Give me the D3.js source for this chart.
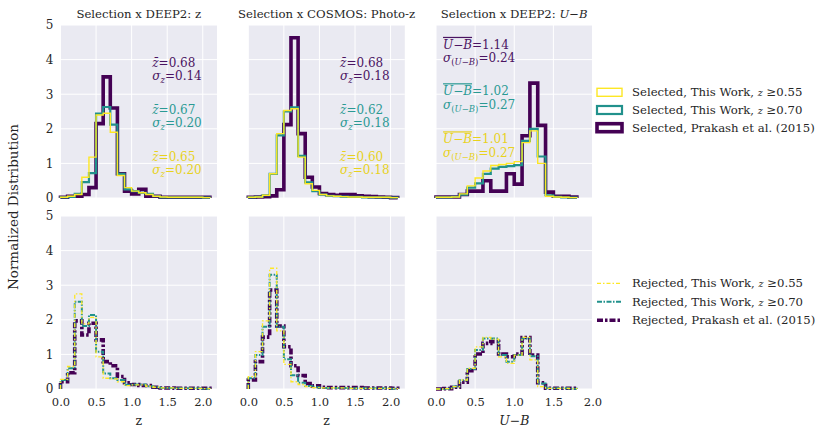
<!DOCTYPE html>
<html lang="en">
  <head>
    <meta charset="utf-8" />
    <script src="https://cdn.jsdelivr.net/npm/d3@7/dist/d3.min.js"></script>
    <title>Selection histograms</title>
    <style>
      body { margin: 0; background: #fff; }
      text { font-family: "DejaVu Serif", serif; fill: #262626; }
    </style>
  </head>
  <body>
    <div id="container"></div>

    <script>
      const width = 830;
      const height = 437;

      // all histograms use 0.1 wide bins starting at 0
      const binWidth = 0.1;

      // top row: selected samples (z >= 0.55, z >= 0.70, Prakash et al. 2015)
      const selZ055 = [0.02, 0.05, 0.1, 0.6, 1.18, 2.4, 2.45, 1.9, 0.65, 0.3, 0.2, 0.15, 0.1, 0.05, 0.03, 0.02, 0.02, 0.02, 0.02, 0.02, 0.01];
      const selZ070 = [0.02, 0.03, 0.12, 0.46, 0.72, 2.44, 2.63, 2.12, 0.7, 0.25, 0.2, 0.15, 0.12, 0.05, 0.02, 0.02, 0.02, 0.02, 0.02, 0.02, 0.01];
      const selZP15 = [0.02, 0.05, 0.05, 0.1, 0.3, 2.15, 3.5, 2.6, 0.7, 0.2, 0.12, 0.25, 0.05, 0.05, 0.02, 0.02, 0.02, 0.02, 0.02, 0.02, 0.02];

      const selC055 = [0.02, 0.03, 0.08, 0.7, 1.86, 2.53, 2.58, 1.18, 0.41, 0.22, 0.1, 0.06, 0.05, 0.04, 0.03, 0.03, 0.02, 0.02, 0.02, 0.02, 0.01];
      const selC070 = [0.02, 0.03, 0.08, 0.7, 1.81, 2.5, 2.62, 1.22, 0.45, 0.2, 0.1, 0.06, 0.05, 0.04, 0.03, 0.03, 0.02, 0.02, 0.02, 0.02, 0.01];
      const selCP15 = [0.02, 0.03, 0.04, 0.06, 0.24, 2.12, 4.63, 1.86, 0.6, 0.32, 0.13, 0.1, 0.08, 0.1, 0.1, 0.06, 0.05, 0.04, 0.03, 0.02, 0.01];

      const selUB055 = [0.02, 0.02, 0.03, 0.12, 0.35, 0.58, 0.78, 0.94, 0.97, 1.0, 1.05, 1.6, 1.94, 1.0, 0.05, 0.03, 0.02, 0.01];
      const selUB070 = [0.02, 0.02, 0.03, 0.1, 0.3, 0.42, 0.7, 0.85, 0.9, 0.92, 0.95, 1.65, 2.0, 1.2, 0.08, 0.03, 0.02, 0.01];
      const selUBP15 = [0.03, 0.03, 0.03, 0.1, 0.2, 0.2, 0.5, 0.2, 0.2, 0.7, 0.4, 1.8, 3.32, 2.1, 0.17, 0.05, 0.05, 0.03];

      // bottom row: rejected samples
      const rejZ055 = [0.28, 0.65, 2.75, 1.88, 2.07, 0.93, 0.31, 0.29, 0.21, 0.1, 0.12, 0.12, 0.08, 0.05, 0.03, 0.03, 0.02, 0.02, 0.02, 0.02, 0.01];
      const rejZ070 = [0.26, 0.6, 2.52, 1.82, 2.14, 1.08, 0.45, 0.31, 0.26, 0.12, 0.13, 0.13, 0.08, 0.05, 0.03, 0.03, 0.02, 0.02, 0.02, 0.02, 0.01];
      const rejZP15 = [0.21, 0.47, 1.97, 1.56, 1.9, 1.42, 0.79, 0.67, 0.36, 0.18, 0.13, 0.1, 0.1, 0.05, 0.03, 0.03, 0.02, 0.02, 0.02, 0.02, 0.02];

      const rejC055 = [0.36, 1.08, 1.97, 3.49, 1.68, 0.71, 0.21, 0.13, 0.07, 0.04, 0.03, 0.03, 0.03, 0.03, 0.02, 0.02, 0.02, 0.02, 0.02, 0.02, 0.01];
      const rejC070 = [0.31, 0.98, 1.8, 3.3, 1.8, 0.86, 0.4, 0.18, 0.09, 0.05, 0.03, 0.03, 0.03, 0.03, 0.02, 0.02, 0.02, 0.02, 0.02, 0.02, 0.01];
      const rejCP15 = [0.26, 0.79, 1.5, 2.86, 1.82, 1.22, 0.67, 0.39, 0.16, 0.09, 0.05, 0.04, 0.04, 0.04, 0.04, 0.04, 0.03, 0.03, 0.03, 0.03, 0.02];

      const rejUB055 = [0.0, 0.01, 0.07, 0.26, 0.6, 1.22, 1.49, 1.44, 0.93, 0.74, 0.98, 1.49, 0.84, 0.07, 0.02, 0.02, 0.02, 0.01];
      const rejUB070 = [0.0, 0.01, 0.07, 0.25, 0.58, 1.13, 1.46, 1.46, 0.98, 0.79, 0.98, 1.46, 0.95, 0.16, 0.02, 0.02, 0.02, 0.01];
      const rejUBP15 = [0.0, 0.01, 0.05, 0.2, 0.53, 1.01, 1.32, 1.37, 1.01, 0.93, 1.01, 1.49, 0.98, 0.18, 0.02, 0.02, 0.02, 0.02];

      // mean / sigma annotations, order: Prakash, z>=0.70, z>=0.55
      const statsZ = [["0.68", "0.14"], ["0.67", "0.20"], ["0.65", "0.20"]];
      const statsC = [["0.68", "0.18"], ["0.62", "0.18"], ["0.60", "0.18"]];
      const statsUB = [["1.14", "0.24"], ["1.02", "0.27"], ["1.01", "0.27"]];

      const xTicksZ = [0, 0.5, 1, 1.5, 2];
      const xTicksUB = [0, 0.5, 1, 1.5, 2];
      const yTicks = [0, 1, 2, 3, 4, 5];

      const selLabels = ["Selected, This Work, ", "Selected, This Work, ", "Selected, Prakash et al. (2015)"];
      const rejLabels = ["Rejected, This Work, ", "Rejected, This Work, ", "Rejected, Prakash et al. (2015)"];
      const cutLabels = ["0.55", "0.70", null];

      // styling (order: z>=0.55, z>=0.70, Prakash)
      const colors = ["#fde725", "#21918c", "#440154"];
      const textColors = ["#e8d21d", "#2a9a94", "#4b1462"];
      const selWidths = [1.4, 2.2, 3.6];
      const rejWidths = [1.3, 2.0, 3.6];
      const rejDash = ["4,2,1.5,2", "5,1.5,1.5,1.5", "6,2,2.5,2"];

      const colX = [60.5, 248.3, 436];
      const rowY = [25, 216];
      const pw = 156.5;
      const ph = 173;

      const svg = d3.select("#container").append("svg").attr("width", width).attr("height", height);

      const panels = [
        { row: 0, col: 0, xmax: 2.2, ticks: xTicksZ, series: [selZ055, selZ070, selZP15], stats: statsZ, kind: "z" },
        { row: 0, col: 1, xmax: 2.2, ticks: xTicksZ, series: [selC055, selC070, selCP15], stats: statsC, kind: "z" },
        { row: 0, col: 2, xmax: 2.0, ticks: xTicksUB, series: [selUB055, selUB070, selUBP15], stats: statsUB, kind: "ub" },
        { row: 1, col: 0, xmax: 2.2, ticks: xTicksZ, series: [rejZ055, rejZ070, rejZP15], kind: "z" },
        { row: 1, col: 1, xmax: 2.2, ticks: xTicksZ, series: [rejC055, rejC070, rejCP15], kind: "z" },
        { row: 1, col: 2, xmax: 2.0, ticks: xTicksUB, series: [rejUB055, rejUB070, rejUBP15], kind: "ub" },
      ];

      function stepPoints(vals) {
        const pts = [[0, 0]];
        vals.forEach((v, i) => {
          pts.push([i * binWidth, v]);
          pts.push([(i + 1) * binWidth, v]);
        });
        pts.push([vals.length * binWidth, 0]);
        return pts;
      }

      // writes "U−B" in italics, optionally with a bar over it
      function ubTspans(t, size, over) {
        const s = t.append("tspan").attr("font-style", "italic").attr("font-size", size).text("U\u2212B");
        if (over) s.style("text-decoration", "overline");
      }

      panels.forEach((p) => {
        const x = d3.scaleLinear().domain([0, p.xmax]).range([colX[p.col], colX[p.col] + pw]);
        const y = d3.scaleLinear().domain([0, 5]).range([rowY[p.row] + ph, rowY[p.row]]);
        const g = svg.append("g");

        g.append("rect").attr("x", x(0)).attr("y", y(5)).attr("width", pw).attr("height", ph).attr("fill", "#eaeaf2");

        g.selectAll(".vg").data(p.ticks).enter().append("line")
          .attr("x1", (d) => x(d)).attr("x2", (d) => x(d)).attr("y1", y(0)).attr("y2", y(5))
          .attr("stroke", "#fff").attr("stroke-width", 1);
        g.selectAll(".hg").data(yTicks).enter().append("line")
          .attr("x1", x(0)).attr("x2", x(p.xmax)).attr("y1", (d) => y(d)).attr("y2", (d) => y(d))
          .attr("stroke", "#fff").attr("stroke-width", 1);

        const line = d3.line().x((d) => x(d[0])).y((d) => y(d[1]));

        // Prakash first, then z>=0.70, then z>=0.55 on top
        [2, 1, 0].forEach((k) => {
          const path = g.append("path")
            .attr("d", line(stepPoints(p.series[k])))
            .attr("fill", "none")
            .attr("stroke", colors[k])
            .attr("stroke-linejoin", "miter");
          if (p.row === 0) {
            path.attr("stroke-width", selWidths[k]);
          } else {
            path.attr("stroke-width", rejWidths[k]).attr("stroke-dasharray", rejDash[k]);
          }
        });

        // axes
        if (p.col === 0) {
          const ya = g.append("g").attr("transform", `translate(${x(0)},0)`)
            .call(d3.axisLeft(y).tickValues(yTicks).tickFormat(d3.format("d")).tickSize(0).tickPadding(7));
          ya.select(".domain").remove();
          ya.selectAll("text").attr("font-size", 12).attr("font-family", "DejaVu Serif");
        }
        if (p.row === 1) {
          const xa = g.append("g").attr("transform", `translate(0,${y(0)})`)
            .call(d3.axisBottom(x).tickValues(p.ticks).tickFormat(d3.format(".1f")).tickSize(0).tickPadding(9));
          xa.select(".domain").remove();
          xa.selectAll("text").attr("font-size", 11.5).attr("font-family", "DejaVu Serif");

          const lab = g.append("text").attr("x", x(0) + pw / 2).attr("y", 425)
            .attr("text-anchor", "middle").attr("font-size", 12.5);
          if (p.kind === "z") lab.text("z");
          else ubTspans(lab, 12.5, false);
        }

        // annotations
        if (p.stats) {
          const sx = p.kind === "z" ? x(1.29) : x(0.09);
          const sy = p.kind === "z" ? [3.79, 2.43, 1.07] : [4.31, 2.97, 1.58];
          const statColors = [textColors[2], textColors[1], textColors[0]];
          p.stats.forEach((s, i) => {
            const by = y(sy[i]);
            const t1 = g.append("text").attr("x", sx).attr("y", by).attr("font-size", 12).style("fill", statColors[i]);
            const t2 = g.append("text").attr("x", sx).attr("y", by + (p.kind === "z" ? 13 : 13.5)).attr("font-size", 12).style("fill", statColors[i]);
            if (p.kind === "z") {
              t1.append("tspan").attr("font-style", "italic").text("z\u0304");
              t1.append("tspan").text("=" + s[0]);
              t2.append("tspan").attr("font-style", "italic").text("\u03c3");
              t2.append("tspan").attr("font-style", "italic").attr("font-size", 8.5).attr("dy", 3).text("z");
              t2.append("tspan").attr("dy", -3).text("=" + s[1]);
            } else {
              ubTspans(t1, 12, true);
              t1.append("tspan").text("=" + s[0]);
              t2.append("tspan").attr("font-style", "italic").text("\u03c3");
              t2.append("tspan").attr("font-size", 8.5).attr("dy", 3).text("(");
              t2.append("tspan").attr("font-size", 8.5).attr("font-style", "italic").text("U\u2212B");
              t2.append("tspan").attr("font-size", 8.5).text(")");
              t2.append("tspan").attr("dy", -3).text("=" + s[1]);
            }
          });
        }
      });

      // titles
      const titleY = 17.5;
      svg.append("text").attr("x", colX[0] + pw / 2).attr("y", titleY).attr("text-anchor", "middle")
        .attr("font-size", 11.7).text("Selection x DEEP2: z");
      svg.append("text").attr("x", colX[1] + pw / 2).attr("y", titleY).attr("text-anchor", "middle")
        .attr("font-size", 11.7).text("Selection x COSMOS: Photo-z");
      const t3 = svg.append("text").attr("x", colX[2] + pw / 2).attr("y", titleY).attr("text-anchor", "middle")
        .attr("font-size", 11.7);
      t3.append("tspan").text("Selection x DEEP2: ");
      ubTspans(t3, 11.7, false);

      // y label
      svg.append("text").attr("transform", `translate(18,${(rowY[0] + rowY[1] + ph) / 2}) rotate(-90)`)
        .attr("text-anchor", "middle").attr("font-size", 13.5).text("Normalized Distribution");

      // legends
      const lx = 597;
      function legendText(gy, label, cut) {
        const t = svg.append("text").attr("x", lx + 35).attr("y", gy + 4).attr("font-size", 11.7);
        t.append("tspan").text(label);
        if (cut) {
          t.append("tspan").attr("font-style", "italic").attr("font-size", 9.5).text("z");
          t.append("tspan").text(" \u2265" + cut);
        }
      }
      selLabels.forEach((lab, k) => {
        const gy = 92.3 + k * 17.7;
        svg.append("rect").attr("x", lx).attr("y", gy - 4).attr("width", 25).attr("height", 8)
          .attr("fill", "none").attr("stroke", colors[k]).attr("stroke-width", selWidths[k]);
        legendText(gy, lab, cutLabels[k]);
      });
      rejLabels.forEach((lab, k) => {
        const gy = 283.3 + k * 18.5;
        svg.append("line").attr("x1", lx).attr("x2", lx + 25).attr("y1", gy).attr("y2", gy)
          .attr("stroke", colors[k]).attr("stroke-width", rejWidths[k]).attr("stroke-dasharray", rejDash[k]);
        legendText(gy, lab, cutLabels[k]);
      });
    </script>
  </body>
</html>
